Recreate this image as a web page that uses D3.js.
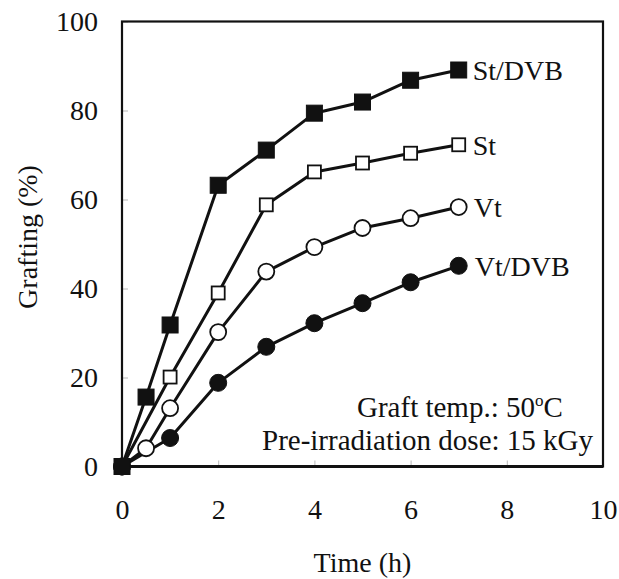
<!DOCTYPE html>
<html>
<head>
<meta charset="utf-8">
<script src="https://cdn.jsdelivr.net/npm/d3@7"></script>
<style>
  html, body { margin: 0; padding: 0; background: #fff; }
  svg { display: block; }
  text { font-family: "Liberation Serif", "Times New Roman", serif; fill: #111; }
</style>
</head>
<body>
<svg id="chart" width="619" height="579"></svg>
<script>
// Grafting yield vs. reaction time for four monomer systems
const timeStDVB = [0, 0.5, 1, 2, 3, 4, 5, 6, 7];
const graftStDVB = [0, 15.6, 31.8, 63.2, 71.1, 79.4, 81.9, 86.8, 89.1];

const timeSt = [0, 1, 2, 3, 4, 5, 6, 7];
const graftSt = [0, 20.1, 39.0, 58.8, 66.2, 68.2, 70.4, 72.3];

const timeVt = [0, 0.5, 1, 2, 3, 4, 5, 6, 7];
const graftVt = [0, 4.1, 13.1, 30.2, 43.8, 49.3, 53.6, 55.8, 58.3];

const timeVtDVB = [0, 1, 2, 3, 4, 5, 6, 7];
const graftVtDVB = [0, 6.4, 18.8, 26.9, 32.2, 36.7, 41.4, 45.1];

const seriesNames = ["St/DVB", "St", "Vt", "Vt/DVB"];
const xTicks = [0, 2, 4, 6, 8, 10];
const yTicks = [0, 20, 40, 60, 80, 100];

const series = [
  { name: seriesNames[0], t: timeStDVB, v: graftStDVB, shape: "square", filled: true },
  { name: seriesNames[1], t: timeSt, v: graftSt, shape: "square", filled: false },
  { name: seriesNames[2], t: timeVt, v: graftVt, shape: "circle", filled: false },
  { name: seriesNames[3], t: timeVtDVB, v: graftVtDVB, shape: "circle", filled: true }
];

const svg = d3.select("#chart");
const plotLeft = 122, plotRight = 603, plotTop = 21.5, plotBottom = 466.5;

const x = d3.scaleLinear().domain([0, 10]).range([plotLeft, plotRight]);
const y = d3.scaleLinear().domain([0, 100]).range([plotBottom, plotTop]);

// axes with short inward ticks
const yAxis = svg.append("g")
  .attr("transform", `translate(${plotLeft},0)`)
  .call(d3.axisLeft(y).tickValues(yTicks).tickSize(-6).tickPadding(24).tickFormat(d3.format("d")));
const xAxis = svg.append("g")
  .attr("transform", `translate(0,${plotBottom})`)
  .call(d3.axisBottom(x).tickValues(xTicks).tickSize(-6).tickPadding(33).tickFormat(d3.format("d")));

[yAxis, xAxis].forEach(g => {
  g.select(".domain").remove();
  g.selectAll(".tick line").attr("stroke", "#b8b8b8").attr("stroke-width", 1);
  g.selectAll(".tick text").attr("font-size", 28).attr("font-family", "Liberation Serif").attr("fill", "#111");
});

// plot frame
svg.append("rect")
  .attr("x", plotLeft).attr("y", plotTop)
  .attr("width", plotRight - plotLeft).attr("height", plotBottom - plotTop)
  .attr("fill", "none").attr("stroke", "#111").attr("stroke-width", 2.2);
svg.append("line")
  .attr("x1", plotLeft).attr("x2", plotRight).attr("y1", plotBottom).attr("y2", plotBottom)
  .attr("stroke", "#111").attr("stroke-width", 3);

// lines
const line = d3.line().x(d => x(d[0])).y(d => y(d[1]));
const plot = svg.append("g");
series.forEach(s => {
  const pts = s.t.map((t, i) => [t, s.v[i]]);
  plot.append("path")
    .datum(pts)
    .attr("d", line)
    .attr("fill", "none")
    .attr("stroke", "#111")
    .attr("stroke-width", 3)
    .attr("stroke-linejoin", "round");
});

// markers
series.slice().reverse().forEach(s => {
  const pts = s.t.map((t, i) => [t, s.v[i]]);
  const g = plot.append("g");
  if (s.shape === "square") {
    const size = s.filled ? 16 : 13;
    g.selectAll("rect").data(pts).join("rect")
      .attr("x", d => x(d[0]) - size / 2)
      .attr("y", d => y(d[1]) - size / 2)
      .attr("width", size).attr("height", size)
      .attr("fill", s.filled ? "#111" : "#fff")
      .attr("stroke", "#111")
      .attr("stroke-width", s.filled ? 1 : 1.8);
  } else {
    g.selectAll("circle").data(pts).join("circle")
      .attr("cx", d => x(d[0]))
      .attr("cy", d => y(d[1]))
      .attr("r", s.filled ? 8.5 : 8)
      .attr("fill", s.filled ? "#111" : "#fff")
      .attr("stroke", "#111")
      .attr("stroke-width", s.filled ? 1 : 1.8);
  }
});

// series labels at the last point
const labelOffset = [14, 14, 15, 16];
series.forEach((s, i) => {
  const n = s.t.length - 1;
  svg.append("text")
    .attr("x", x(s.t[n]) + labelOffset[i])
    .attr("y", y(s.v[n]))
    .attr("dy", "0.35em")
    .attr("font-size", 28)
    .text(s.name);
});

// axis titles
svg.append("text")
  .attr("x", x(5)).attr("y", 572)
  .attr("text-anchor", "middle")
  .attr("font-size", 28)
  .text("Time (h)");
svg.append("text")
  .attr("transform", "translate(37,237) rotate(-90)")
  .attr("text-anchor", "middle")
  .attr("font-size", 28)
  .text("Grafting (%)");

// condition notes
const note1 = svg.append("text")
  .attr("x", 357).attr("y", 417)
  .attr("font-size", 29);
note1.append("tspan").text("Graft temp.: 50");
note1.append("tspan").attr("font-size", 17).attr("dy", -11).text("o");
note1.append("tspan").attr("dy", 11).text("C");
svg.append("text")
  .attr("x", 262).attr("y", 450)
  .attr("font-size", 29)
  .text("Pre-irradiation dose: 15 kGy");
</script>
</body>
</html>
